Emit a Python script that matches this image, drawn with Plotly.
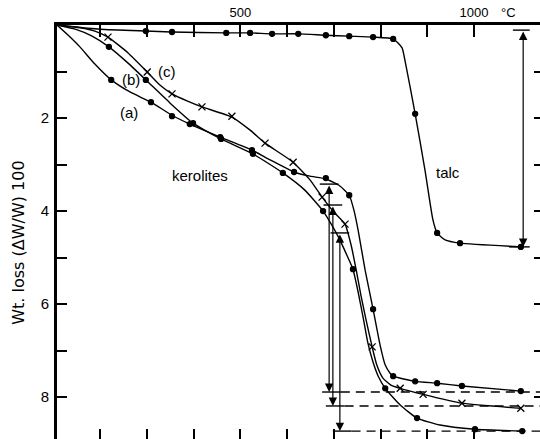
import plotly.graph_objects as go

# ---------------- data (temperature degC, weight loss %) ----------------
talc_T = [108, 200, 298, 352, 470, 521, 568, 624, 683, 733, 784, 827, 846, 852, 874, 895, 912, 921, 938, 970, 1100]
talc_W = [0, 0.09, 0.13, 0.15, 0.17, 0.17, 0.19, 0.19, 0.22, 0.24, 0.26, 0.30, 0.49, 0.75, 1.91, 3.12, 4.19, 4.47, 4.62, 4.69, 4.77]
talc_mT = [298, 354, 470, 521, 568, 624, 683, 733, 784, 827, 874, 921, 970, 1100]
talc_mW = [0.13, 0.15, 0.17, 0.17, 0.19, 0.19, 0.22, 0.24, 0.26, 0.30, 1.91, 4.47, 4.69, 4.77]

a_T = [108, 132, 157, 189, 224, 264, 309, 354, 392, 457, 525, 564, 615, 649, 683, 713, 733, 743, 752, 767, 784, 799, 810, 820, 827, 874, 921, 974, 1100]
a_W = [0, 0.22, 0.47, 0.84, 1.18, 1.44, 1.66, 1.94, 2.13, 2.41, 2.69, 2.90, 3.16, 3.25, 3.31, 3.46, 3.66, 3.98, 4.41, 5.27, 6.11, 6.88, 7.31, 7.48, 7.55, 7.66, 7.70, 7.76, 7.87]
a_mT = [224, 309, 354, 392, 457, 525, 615, 683, 733, 784, 827, 874, 921, 974, 1100]
a_mW = [1.18, 1.66, 1.96, 2.13, 2.41, 2.69, 3.16, 3.29, 3.66, 6.11, 7.55, 7.66, 7.70, 7.76, 7.87]

b_T = [108, 147, 183, 219, 260, 298, 350, 399, 459, 527, 591, 638, 677, 698, 713, 728, 741, 752, 763, 773, 784, 795, 810, 842, 878, 927, 1002, 1103]
b_W = [0, 0.09, 0.24, 0.47, 0.82, 1.18, 1.68, 2.11, 2.45, 2.77, 3.18, 3.55, 4.00, 4.34, 4.62, 4.95, 5.25, 5.74, 6.30, 6.84, 7.25, 7.55, 7.81, 8.17, 8.45, 8.60, 8.69, 8.73]
b_mT = [219, 298, 399, 459, 527, 591, 677, 741, 810, 878, 1002, 1103]
b_mW = [0.47, 1.18, 2.11, 2.45, 2.77, 3.18, 4.00, 5.25, 7.81, 8.45, 8.69, 8.73]

c_T = [108, 157, 189, 217, 260, 301, 328, 354, 386, 418, 482, 521, 553, 613, 649, 675, 700, 724, 737, 748, 758, 769, 782, 792, 805, 822, 842, 891, 974, 1100]
c_W = [0, 0.06, 0.13, 0.26, 0.60, 1.01, 1.29, 1.48, 1.63, 1.76, 1.98, 2.26, 2.54, 2.95, 3.33, 3.70, 4.02, 4.28, 4.73, 5.27, 5.81, 6.34, 6.92, 7.31, 7.59, 7.74, 7.81, 7.94, 8.13, 8.24]
c_mT = [217, 301, 354, 418, 482, 553, 613, 675, 724, 782, 842, 891, 974, 1100]
c_mW = [0.26, 1.01, 1.48, 1.76, 1.96, 2.54, 2.95, 3.70, 4.28, 6.92, 7.81, 7.94, 8.13, 8.24]

# dehydroxylation step measures for kerolites (a, c, b)
step_T = [690, 698, 713]
step_top = [3.42, 3.87, 4.47]
step_bottom = [7.89, 8.19, 8.73]
# talc total loss measure
talc_step_T = 1105
talc_step_top = 0.11
talc_step_bottom = 4.77

x_ticks = [200, 300, 400, 500, 600, 700, 800, 900, 1000]
x_ticktext = ["", "", "", "500", "", "", "", "", "1000"]
y_ticks = [1, 2, 3, 4, 5, 6, 7, 8]
y_ticktext = ["", "2", "", "4", "", "6", "", "8"]

X_RANGE = [108, 1141]
Y_RANGE = [8.9, 0]
FONT = "Liberation Sans"
TFONT = "DejaVu Sans"
K = "black"

fig = go.Figure()


def curve(T, W, mT, mW, symbol, msize):
    fig.add_trace(go.Scatter(x=T, y=W, mode="lines",
                             line=dict(color=K, width=1.4, shape="spline", smoothing=0.5),
                             hoverinfo="skip", showlegend=False))
    fig.add_trace(go.Scatter(x=mT, y=mW, mode="markers",
                             marker=dict(symbol=symbol, size=msize, color=K,
                                         line=dict(color=K, width=1.3)),
                             hoverinfo="skip", showlegend=False))


curve(talc_T, talc_W, talc_mT, talc_mW, "circle", 5)
curve(a_T, a_W, a_mT, a_mW, "circle", 5)
curve(b_T, b_W, b_mT, b_mW, "circle", 5)
curve(c_T, c_W, c_mT, c_mW, "x-thin", 7)

# measurement bars, dashed end levels and arrows
for T, top, bot in zip(step_T, step_top, step_bottom):
    fig.add_trace(go.Scatter(x=[T - 20, T + 20], y=[top, top], mode="lines",
                             line=dict(color=K, width=1.4), hoverinfo="skip", showlegend=False))
    fig.add_trace(go.Scatter(x=[T - 15, T + 25], y=[bot, bot], mode="lines",
                             line=dict(color=K, width=1.4), hoverinfo="skip", showlegend=False))
    fig.add_trace(go.Scatter(x=[T + 25, X_RANGE[1] + 10], y=[bot, bot], mode="lines",
                             line=dict(color=K, width=1.4, dash="9px,6px"),
                             hoverinfo="skip", showlegend=False))
    fig.add_annotation(x=T, y=bot, ax=T, ay=top, xref="x", yref="y", axref="x", ayref="y",
                       text="", showarrow=True, arrowhead=2, startarrowhead=2,
                       arrowside="end+start", arrowsize=1.4, startarrowsize=1.4,
                       arrowwidth=1.2, arrowcolor=K, standoff=0, startstandoff=0)

fig.add_trace(go.Scatter(x=[talc_step_T - 22, talc_step_T + 14], y=[talc_step_top, talc_step_top],
                         mode="lines", line=dict(color=K, width=1.4), hoverinfo="skip", showlegend=False))
fig.add_trace(go.Scatter(x=[talc_step_T - 30, talc_step_T + 14], y=[talc_step_bottom, talc_step_bottom],
                         mode="lines", line=dict(color=K, width=1.4), hoverinfo="skip", showlegend=False))
fig.add_annotation(x=talc_step_T, y=talc_step_bottom, ax=talc_step_T, ay=talc_step_top,
                   xref="x", yref="y", axref="x", ayref="y",
                   text="", showarrow=True, arrowhead=2, startarrowhead=2,
                   arrowside="end+start", arrowsize=1.4, startarrowsize=1.4,
                   arrowwidth=1.2, arrowcolor=K, standoff=0, startstandoff=0)

# helper traces so the secondary axes (bottom ticks, right ticks) are drawn
fig.add_trace(go.Scatter(x=[], y=[], xaxis="x2", yaxis="y", showlegend=False))
fig.add_trace(go.Scatter(x=[], y=[], xaxis="x", yaxis="y2", showlegend=False))

# text labels
labels = [("kerolites", 414, 3.23), ("talc", 944, 3.18), ("(a)", 262, 1.89),
          ("(b)", 266, 1.18), ("(c)", 343, 1.01)]
for txt, tx, ty in labels:
    fig.add_annotation(x=tx, y=ty, xref="x", yref="y", text=txt, showarrow=False,
                       font=dict(family=FONT, size=15, color=K))

fig.add_annotation(x=1073, y=1, xref="x", yref="paper", text="°C", showarrow=False,
                   yanchor="bottom", yshift=3, font=dict(family=FONT, size=13, color=K))
fig.add_annotation(x=-0.083, y=0.475, xref="paper", yref="paper", text="Wt. loss (ΔW/W) 100",
                   textangle=-90, showarrow=False, xshift=-10,
                   font=dict(family=TFONT, size=16, color=K))

fig.update_layout(
    width=540, height=439,
    margin=dict(l=57, r=0, t=25, b=0),
    paper_bgcolor="white", plot_bgcolor="white",
    showlegend=False,
    font=dict(family=FONT, color=K),
    xaxis=dict(side="top", range=X_RANGE, tickvals=x_ticks, ticktext=x_ticktext,
               ticks="inside", ticklen=12, tickwidth=2, tickcolor=K,
               showline=True, linewidth=3, linecolor=K, showgrid=False, zeroline=False,
               tickfont=dict(family=FONT, size=13, color=K), ticklabelstandoff=0),
    xaxis2=dict(side="bottom", overlaying="x", range=X_RANGE, tickvals=x_ticks,
                ticks="inside", ticklen=10, tickwidth=2, tickcolor=K, showticklabels=False,
                showline=False, showgrid=False, zeroline=False),
    yaxis=dict(range=Y_RANGE, tickvals=y_ticks, ticktext=y_ticktext,
               ticks="inside", ticklen=10, tickwidth=2, tickcolor=K,
               showline=True, linewidth=3, linecolor=K, showgrid=False, zeroline=False,
               tickfont=dict(family=FONT, size=15, color=K), ticklabelstandoff=2),
    yaxis2=dict(side="right", overlaying="y", range=Y_RANGE, tickvals=y_ticks,
                ticks="inside", ticklen=6, tickwidth=2, tickcolor=K, showticklabels=False,
                showline=False, showgrid=False, zeroline=False),
)

fig.write_html("out.html")
